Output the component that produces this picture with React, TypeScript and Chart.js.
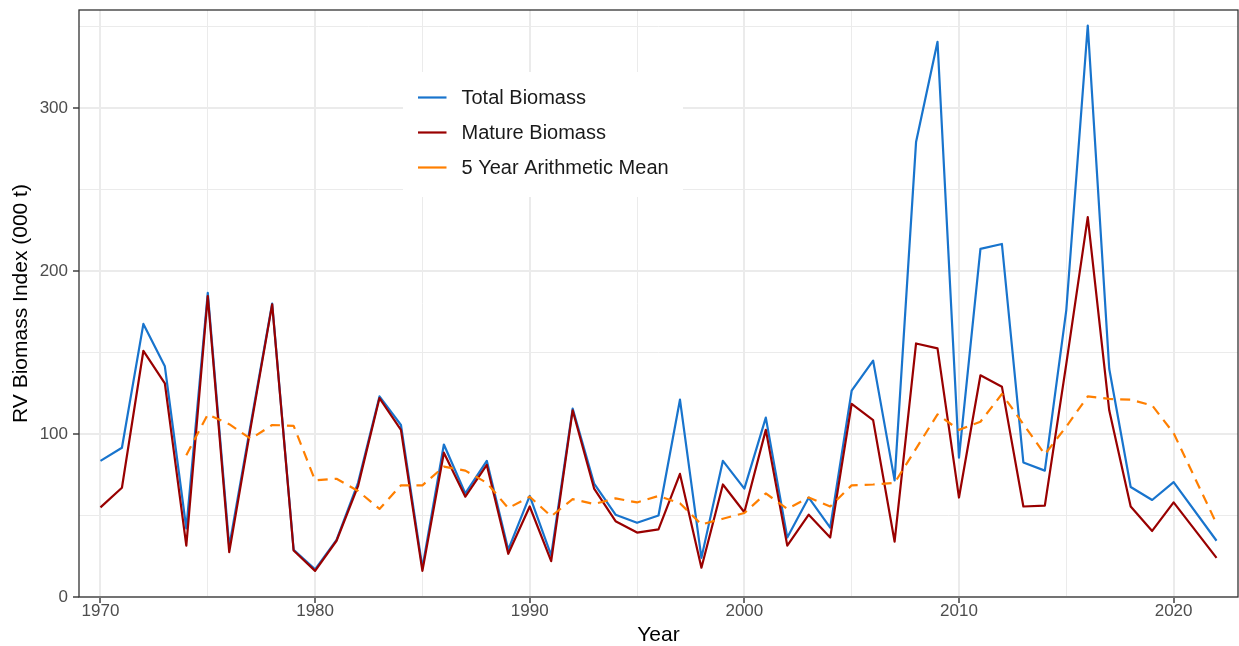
import React, { useEffect, useRef } from "react";
import { Chart, registerables } from "chart.js";

Chart.register(...registerables);

// ---- Data ----
const years = [
  1970, 1971, 1972, 1973, 1974, 1975, 1976, 1977, 1978, 1979,
  1980, 1981, 1982, 1983, 1984, 1985, 1986, 1987, 1988, 1989,
  1990, 1991, 1992, 1993, 1994, 1995, 1996, 1997, 1998, 1999,
  2000, 2001, 2002, 2003, 2004, 2005, 2006, 2007, 2008, 2009,
  2010, 2011, 2012, 2013, 2014, 2015, 2016, 2017, 2018, 2019,
  2020, 2022,
];

const totalBiomass = [
  83.5, 91.5, 167.5, 141.5, 42, 186.5, 31, 106, 180, 29,
  17, 35, 70, 123, 105.5, 18, 93.5, 63.5, 83.5, 29,
  62, 25.5, 115.5, 69.5, 50.5, 45.5, 50, 121, 24, 83.5,
  66.5, 110, 36.5, 61, 42.5, 126.5, 145, 71.5, 279, 340.5,
  85.5, 213.5, 216.5, 82.5, 77.5, 176, 350.5, 140, 67.5, 59.5,
  70.5, 34.5,
];

const matureBiomass = [
  55, 67, 151, 131, 31.5, 184.5, 27.5, 104, 179.5, 28.5,
  16, 34.5, 68, 122, 102.5, 16, 88.5, 61.5, 81, 26.5,
  55.5, 22, 114.5, 66.5, 46.5, 39.5, 41.5, 75.5, 18, 69,
  52, 102.5, 31.5, 50.5, 36.5, 118.5, 108.5, 34, 155.5, 152.5,
  61, 136, 129, 55.5, 56, 143, 233, 114.5, 55.5, 40.5,
  58, 24,
];

const meanYears = [
  1974, 1975, 1976, 1977, 1978, 1979,
  1980, 1981, 1982, 1983, 1984, 1985, 1986, 1987, 1988, 1989,
  1990, 1991, 1992, 1993, 1994, 1995, 1996, 1997, 1998, 1999,
  2000, 2001, 2002, 2003, 2004, 2005, 2006, 2007, 2008, 2009,
  2010, 2011, 2012, 2013, 2014, 2015, 2016, 2017, 2018, 2019,
  2020, 2022,
];

const fiveYearMean = [
  87, 112, 106, 97, 105.5, 105,
  71.5, 72.5, 65, 54, 68.5, 68.5, 80, 77.5, 70, 54.5,
  61.5, 49.5, 60, 57, 60.5, 58, 62, 57.5, 44.5, 48,
  51.5, 63.5, 54, 61, 55.5, 68.5, 69, 70, 91, 112,
  102.5, 107.5, 124.5, 106, 87.5, 104.5, 123, 121.5, 121, 117.5,
  100.5, 45,
];

const xTickValues = [1970, 1975, 1980, 1985, 1990, 1995, 2000, 2005, 2010, 2015, 2020];
const yTickValues = [0, 50, 100, 150, 200, 250, 300, 350];

const seriesLabels = ["Total Biomass", "Mature Biomass", "5 Year Arithmetic Mean"];
const seriesColors = ["#1874CD", "#990000", "#FF7F00"];

const xAxisTitle = "Year";
const yAxisTitle = "RV Biomass Index (000 t)";

const FONT = "'Liberation Sans', Arial, Helvetica, sans-serif";

const toPoints = (xs: number[], ys: number[]) => xs.map((x, i) => ({ x, y: ys[i] }));

const isMajorX = (v: number) => v % 10 === 0;
const isMajorY = (v: number) => v % 100 === 0;

const panelBorderPlugin = {
  id: "panelBorder",
  afterDatasetsDraw(chart: any) {
    const { ctx, chartArea } = chart;
    ctx.save();
    ctx.strokeStyle = "#333333";
    ctx.lineWidth = 1.3;
    ctx.strokeRect(chartArea.left, chartArea.top, chartArea.right - chartArea.left, chartArea.bottom - chartArea.top);
    ctx.restore();
  },
};

const insideLegendPlugin = {
  id: "insideLegend",
  afterDraw(chart: any) {
    const { ctx } = chart;
    ctx.save();
    ctx.fillStyle = "#ffffff";
    ctx.fillRect(403, 72, 280, 125);
    const rows = [97.5, 132.5, 167.5];
    seriesLabels.forEach((label, i) => {
      const y = rows[i];
      ctx.strokeStyle = seriesColors[i];
      ctx.lineWidth = 2.2;
      ctx.setLineDash([]);
      ctx.beginPath();
      ctx.moveTo(418, y);
      ctx.lineTo(446.5, y);
      ctx.stroke();
      ctx.fillStyle = "#1a1a1a";
      ctx.font = `20px ${FONT}`;
      ctx.textBaseline = "middle";
      ctx.textAlign = "left";
      ctx.fillText(label, 461.5, y + 1);
    });
    ctx.restore();
  },
};

export default function App() {
  const canvasRef = useRef<HTMLCanvasElement | null>(null);

  useEffect(() => {
    document.body.style.margin = "0";
    const canvas = canvasRef.current;
    if (!canvas) return;

    const chart = new Chart(canvas, {
      type: "line",
      data: {
        datasets: [
          {
            label: seriesLabels[0],
            data: toPoints(years, totalBiomass),
            borderColor: seriesColors[0],
            borderWidth: 2.2,
            pointRadius: 0,
            tension: 0,
            borderJoinStyle: "round",
            order: 3,
          },
          {
            label: seriesLabels[1],
            data: toPoints(years, matureBiomass),
            borderColor: seriesColors[1],
            borderWidth: 2.2,
            pointRadius: 0,
            tension: 0,
            borderJoinStyle: "round",
            order: 2,
          },
          {
            label: seriesLabels[2],
            data: toPoints(meanYears, fiveYearMean),
            borderColor: seriesColors[2],
            borderWidth: 2.2,
            borderDash: [10, 7],
            pointRadius: 0,
            tension: 0,
            borderJoinStyle: "round",
            order: 1,
          },
        ],
      },
      options: {
        animation: false,
        responsive: false,
        maintainAspectRatio: false,
        devicePixelRatio: 1,
        events: [],
        layout: { padding: { top: 10, right: 1, bottom: 0, left: 0 } },
        plugins: {
          legend: { display: false },
          tooltip: { enabled: false },
        },
        scales: {
          x: {
            type: "linear",
            min: 1969,
            max: 2023,
            afterBuildTicks: (scale: any) => {
              scale.ticks = xTickValues.map((v) => ({ value: v }));
            },
            afterFit: (scale: any) => {
              scale.height = 49;
              scale.paddingLeft = 0;
              scale.paddingRight = 0;
            },
            border: { display: false },
            grid: {
              color: "#EBEBEB",
              lineWidth: (c: any) => (c.tick && isMajorX(c.tick.value) ? 2 : 1),
              drawTicks: true,
              tickLength: 6,
              tickColor: (c: any) => (c.tick && isMajorX(c.tick.value) ? "#333333" : "rgba(0,0,0,0)"),
              tickWidth: 1.4,
            },
            ticks: {
              autoSkip: false,
              maxRotation: 0,
              padding: -2,
              color: "#4D4D4D",
              font: { family: FONT, size: 17 },
              callback: (v: any) => (isMajorX(Number(v)) ? String(v) : ""),
            },
            title: {
              display: true,
              text: xAxisTitle,
              color: "#000000",
              font: { family: FONT, size: 21, lineHeight: 1 },
              padding: { top: 0, bottom: 0 },
            },
          },
          y: {
            type: "linear",
            min: 0,
            max: 360,
            afterBuildTicks: (scale: any) => {
              scale.ticks = yTickValues.map((v) => ({ value: v }));
            },
            afterFit: (scale: any) => {
              scale.width = 79;
              scale.paddingTop = 0;
              scale.paddingBottom = 0;
            },
            border: { display: false },
            grid: {
              color: "#EBEBEB",
              lineWidth: (c: any) => (c.tick && isMajorY(c.tick.value) ? 2 : 1),
              drawTicks: true,
              tickLength: 6,
              tickColor: (c: any) => (c.tick && isMajorY(c.tick.value) ? "#333333" : "rgba(0,0,0,0)"),
              tickWidth: 1.4,
            },
            ticks: {
              autoSkip: false,
              padding: 5,
              color: "#4D4D4D",
              font: { family: FONT, size: 17 },
              callback: (v: any) => (isMajorY(Number(v)) ? String(v) : ""),
            },
            title: {
              display: true,
              text: yAxisTitle,
              color: "#000000",
              font: { family: FONT, size: 21, lineHeight: 1 },
              padding: { top: 11, bottom: 0 },
            },
          },
        },
      },
      plugins: [panelBorderPlugin, insideLegendPlugin],
    } as any);

    return () => {
      chart.destroy();
    };
  }, []);

  return (
    <div style={{ width: 1239, height: 646, background: "#ffffff" }}>
      <canvas ref={canvasRef} width={1239} height={646} style={{ display: "block" }} />
    </div>
  );
}
